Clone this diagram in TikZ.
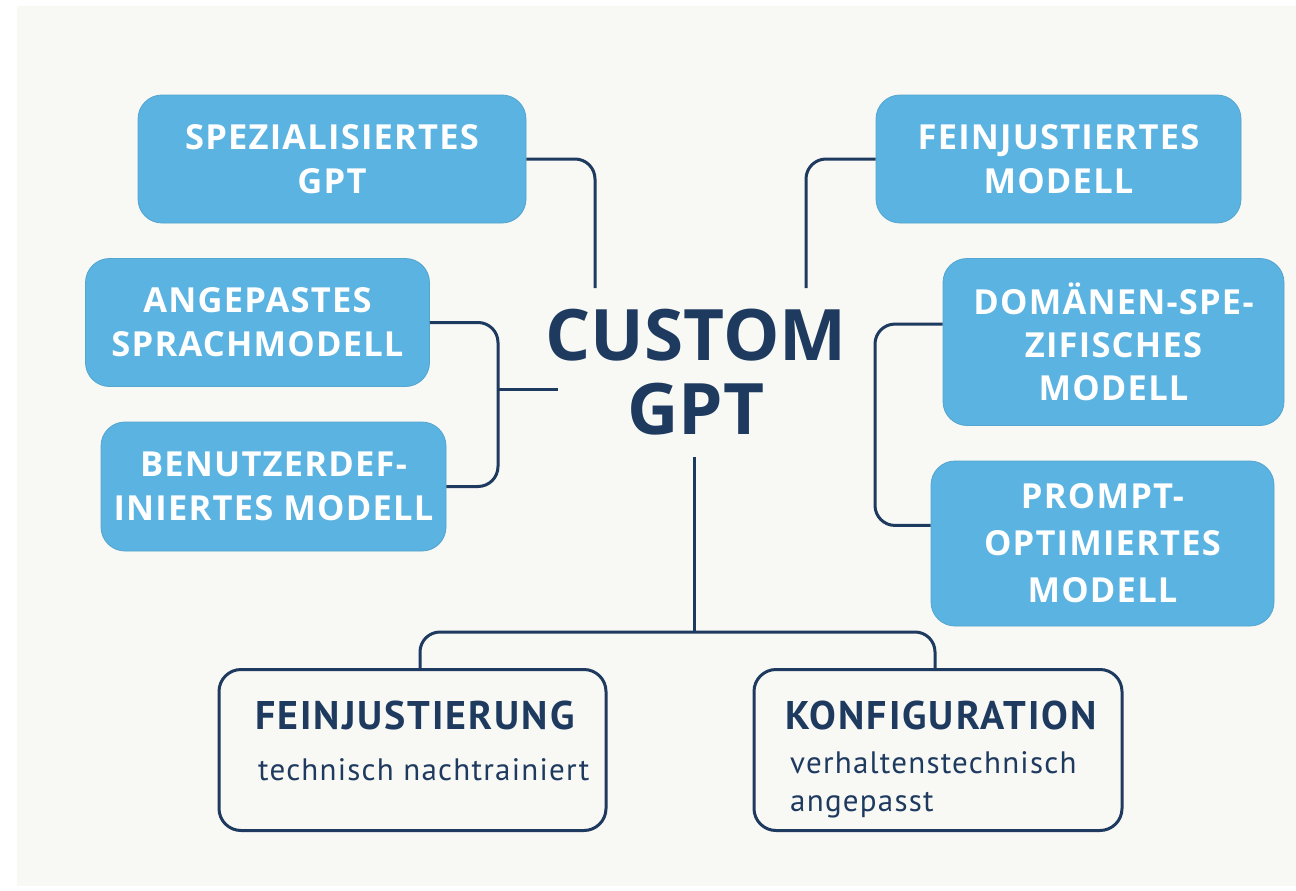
\documentclass[tikz,border=0pt]{standalone}
\usepackage{fontspec}
\setmainfont{Open Sans}
\newfontfamily\ptsans{PT Sans}
\definecolor{bluebox}{HTML}{5BB3E1}
\definecolor{navy}{HTML}{1E3A5F}
\definecolor{panel}{HTML}{F8F8F5}
\newcommand\boxfont[1]{\bfseries\fontsize{34.5}{#1}\selectfont\addfontfeature{LetterSpace=3.5}}
\begin{document}
\begin{tikzpicture}[x=1pt,y=-1pt,
  bbox/.style={rectangle, rounded corners=24pt, fill=bluebox, draw=bluebox!92!black, line width=0.8pt,
    text=white, font=\boxfont{44}, align=center, inner sep=0pt},
  wbox/.style={rectangle, rounded corners=22pt, fill=panel, draw=navy, line width=3pt, inner sep=0pt},
  conn/.style={draw=navy, line width=3pt, rounded corners=20pt},
  title/.style={anchor=base west, inner sep=0pt, text=navy, font=\ptsans\bfseries\fontsize{40}{42}\selectfont\addfontfeature{LetterSpace=5}},
  sub/.style={anchor=base west, inner sep=0pt, text=navy, font=\ptsans\fontsize{31}{32}\selectfont\addfontfeature{LetterSpace=4}}]
\useasboundingbox (0,0) rectangle (1296,891);
\fill[white] (0,0) rectangle (1296,891);
\fill[panel] (17,6) rectangle (1296,886);

% blue boxes
\node[bbox, minimum width=388pt, minimum height=128pt] (b1) at (332,159) {SPEZIALISIERTES\\GPT};
\node[bbox, minimum width=344pt, minimum height=128pt] (b2) at (257.5,322.5) {ANGEPASTES\\SPRACHMODELL};
\node[bbox, minimum width=345pt, minimum height=129pt] (b3) at (273.5,486.5) {BENUTZERDEF-\\INIERTES MODELL};
\node[bbox, minimum width=365pt, minimum height=128pt] (b4) at (1058.5,159) {FEINJUSTIERTES\\MODELL};
\node[bbox, minimum width=341pt, minimum height=167pt, font=\boxfont{43}] (b5) at (1113.5,342) {DOMÄNEN-SPE-\\ZIFISCHES\\MODELL};
\node[bbox, minimum width=343pt, minimum height=165pt, font=\boxfont{47}] (b6) at (1102.5,543.5) {PROMPT-\\OPTIMIERTES\\MODELL};

% center
\node[text=navy, font=\bfseries\fontsize{71}{74}\selectfont, align=center, inner sep=0pt] (c) at (696,372) {CUSTOM\\GPT};

% bottom boxes
\node[wbox, minimum width=387pt, minimum height=161pt] (b7) at (412.5,750) {};
\node[wbox, minimum width=368pt, minimum height=161pt] (b8) at (938,750) {};
\node[title] (t7) at (255,729) {FEINJUSTIERUNG};
\node[sub] (s7) at (258,780) {technisch nachtrainiert};
\node[title] (t8) at (785,729) {KONFIGURATION};
\node[sub] (s8a) at (790,773) {verhaltenstechnisch};
\node[sub] (s8b) at (790,811) {angepasst};

% connectors
\coordinate (j1) at (595,288);
\coordinate (j4) at (806,288);
\coordinate (lj) at (498,400);
\coordinate (lb) at (498,389);
\coordinate (lt) at (558,389);
\coordinate (rj) at (875,420);
\coordinate (bt) at (694,457);
\coordinate (bj) at (694,632);

\draw[conn] (b1.east) -| (j1);
\draw[conn] (b4.west) -| (j4);
\draw[conn] (b2.east) -| (lj) |- (b3.east);
\draw[conn] (lb) -- (lt);
\draw[conn] (b5.174) -| (rj) |- (b6.174);
\draw[conn] (bt) -- (bj);
\draw[conn] ([xshift=7.5pt]b7.north) |- (bj) -| ([xshift=-3pt]b8.north);
\end{tikzpicture}
\end{document}
